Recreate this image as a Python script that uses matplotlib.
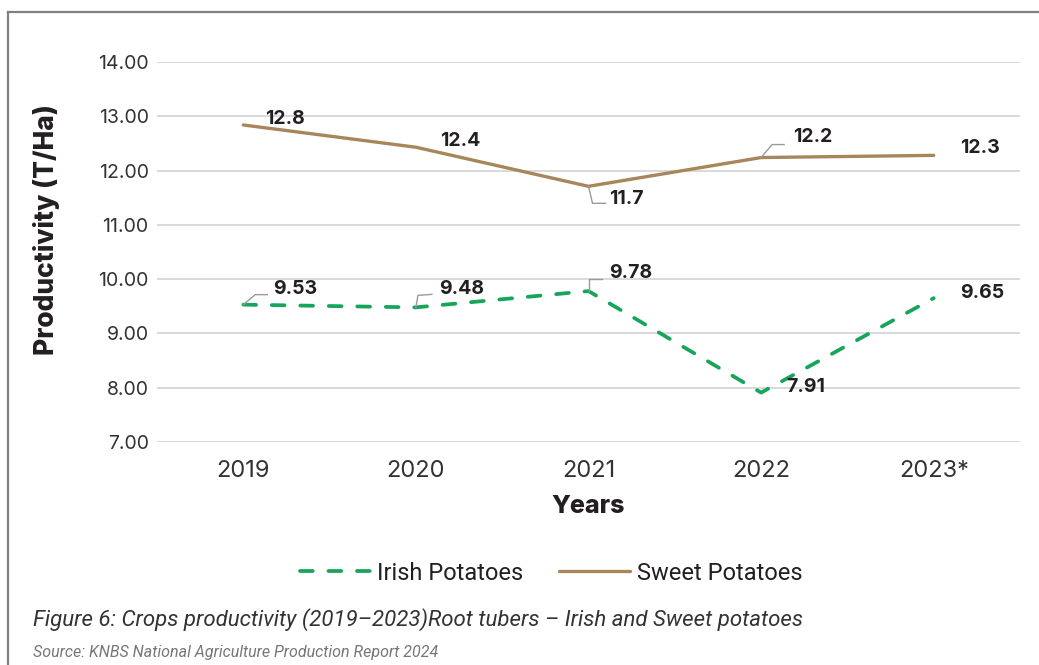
import matplotlib

matplotlib.use("Agg")
import matplotlib.pyplot as plt
from matplotlib.lines import Line2D

# ---- data
years = ["2019", "2020", "2021", "2022", "2023*"]
irish = [9.53, 9.48, 9.78, 7.91, 9.65]
sweet = [12.84, 12.43, 11.71, 12.24, 12.28]
irish_labels = ["9.53", "9.48", "9.78", "7.91", "9.65"]
sweet_labels = ["12.8", "12.4", "11.7", "12.2", "12.3"]
yticks = [7, 8, 9, 10, 11, 12, 13, 14]

W, H = 1039, 665
GREEN = "#17a55b"
BROWN = "#a8865c"
INK = "#231f20"
LEAD = "#9a9a9a"

# label offsets (px from point) and optional leader paths (px)
sweet_off = [(22, 6), (24, 6), (21, -13), (32, 21), (26, 7)]
sweet_lead = [None, None, [(0, 0), (4, -17), (17, -17)],
              [(0, 0), (11, 13), (23, 13)], None]
irish_off = [(30, 16), (23, 18), (21, 18), (25, 6), (26, 5)]
irish_lead = [[(0, 0), (12, 10), (24, 10)], [(0, 0), (2, 12), (16, 13)],
              [(0, 0), (0, 12), (13, 12)], None, None]

fig = plt.figure(figsize=(W / 100, H / 100), dpi=100)
ax = fig.add_axes([157 / W, 1 - 442 / H, (1020 - 157) / W, (442 - 62) / H])

x = list(range(len(years)))
ax.plot(x, irish, color=GREEN, lw=2.7, dashes=(3.4, 4.2),
        dash_capstyle="round", label="Irish Potatoes", zorder=3)
ax.plot(x, sweet, color=BROWN, lw=2.4, solid_capstyle="round",
        label="Sweet Potatoes", zorder=3)

ax.set_xlim(-0.5, len(years) - 0.5)
ax.set_ylim(7, 14)
ax.set_yticks(yticks)
ax.set_yticklabels([f"{v:.2f}" for v in yticks])
ax.set_xticks(x)
ax.set_xticklabels(years)
ax.grid(axis="y", color="#d9d9d9", lw=1.4, zorder=0)
for s in ax.spines.values():
    s.set_visible(False)
ax.tick_params(axis="both", length=0)
ax.tick_params(axis="y", pad=6, labelsize=14, labelcolor="#333333")
ax.tick_params(axis="x", pad=13, labelsize=17, labelcolor="#333333")
for t in ax.get_xticklabels() + ax.get_yticklabels():
    t.set_family("Inter")

ax.set_xlabel("Years", fontsize=18, fontweight="heavy", family="Inter",
              color=INK, labelpad=9)
fig.text(47 / W, 1 - 230 / H, "Productivity (T/Ha)", rotation=90,
         ha="center", va="center", fontsize=19, fontweight="heavy",
         family="Inter", color=INK)

px = 0.72  # points per pixel at 100 dpi


def label_series(vals, labels, offs, leads):
    for xi, (v, lab, off, lead) in enumerate(zip(vals, labels, offs, leads)):
        ax.annotate(lab, (xi, v), xytext=(off[0] * px, off[1] * px),
                    textcoords="offset points", ha="left", va="center",
                    fontsize=14, fontweight="bold", family="Inter",
                    color=INK, zorder=5)
        if lead:
            bx, by = ax.transData.transform((xi, v))
            pts = [ax.transData.inverted().transform((bx + dx, by + dy))
                   for dx, dy in lead]
            ax.plot([p[0] for p in pts], [p[1] for p in pts], color=LEAD,
                    lw=1.0, zorder=4, clip_on=False)


label_series(sweet, sweet_labels, sweet_off, sweet_lead)
label_series(irish, irish_labels, irish_off, irish_lead)

fig.legend(*ax.get_legend_handles_labels(), loc="center", ncol=2,
           bbox_to_anchor=(551 / W, 1 - 573 / H), frameon=False,
           handlelength=3.0, handletextpad=0.3, columnspacing=1.5,
           prop={"family": "Roboto", "size": 17}, labelcolor=INK)

fig.text(33 / W, 1 - 620 / H,
         "Figure 6: Crops productivity (2019\u20132023)Root tubers \u2013 Irish and Sweet potatoes",
         ha="left", va="center", fontsize=16, style="italic",
         family="Roboto", color="#333333")
fig.text(33 / W, 1 - 652 / H,
         "Source: KNBS National Agriculture Production Report 2024",
         ha="left", va="center", fontsize=11.5, style="italic",
         family="Roboto", color="#777777")

# page frame: left and top edges only
fig.add_artist(Line2D([8 / W, 8 / W], [0, 1 - 12 / H], color="#808080", lw=1.6))
fig.add_artist(Line2D([8 / W, 1], [1 - 12 / H, 1 - 12 / H], color="#808080", lw=1.6))

fig.savefig("out.png", dpi=100)
